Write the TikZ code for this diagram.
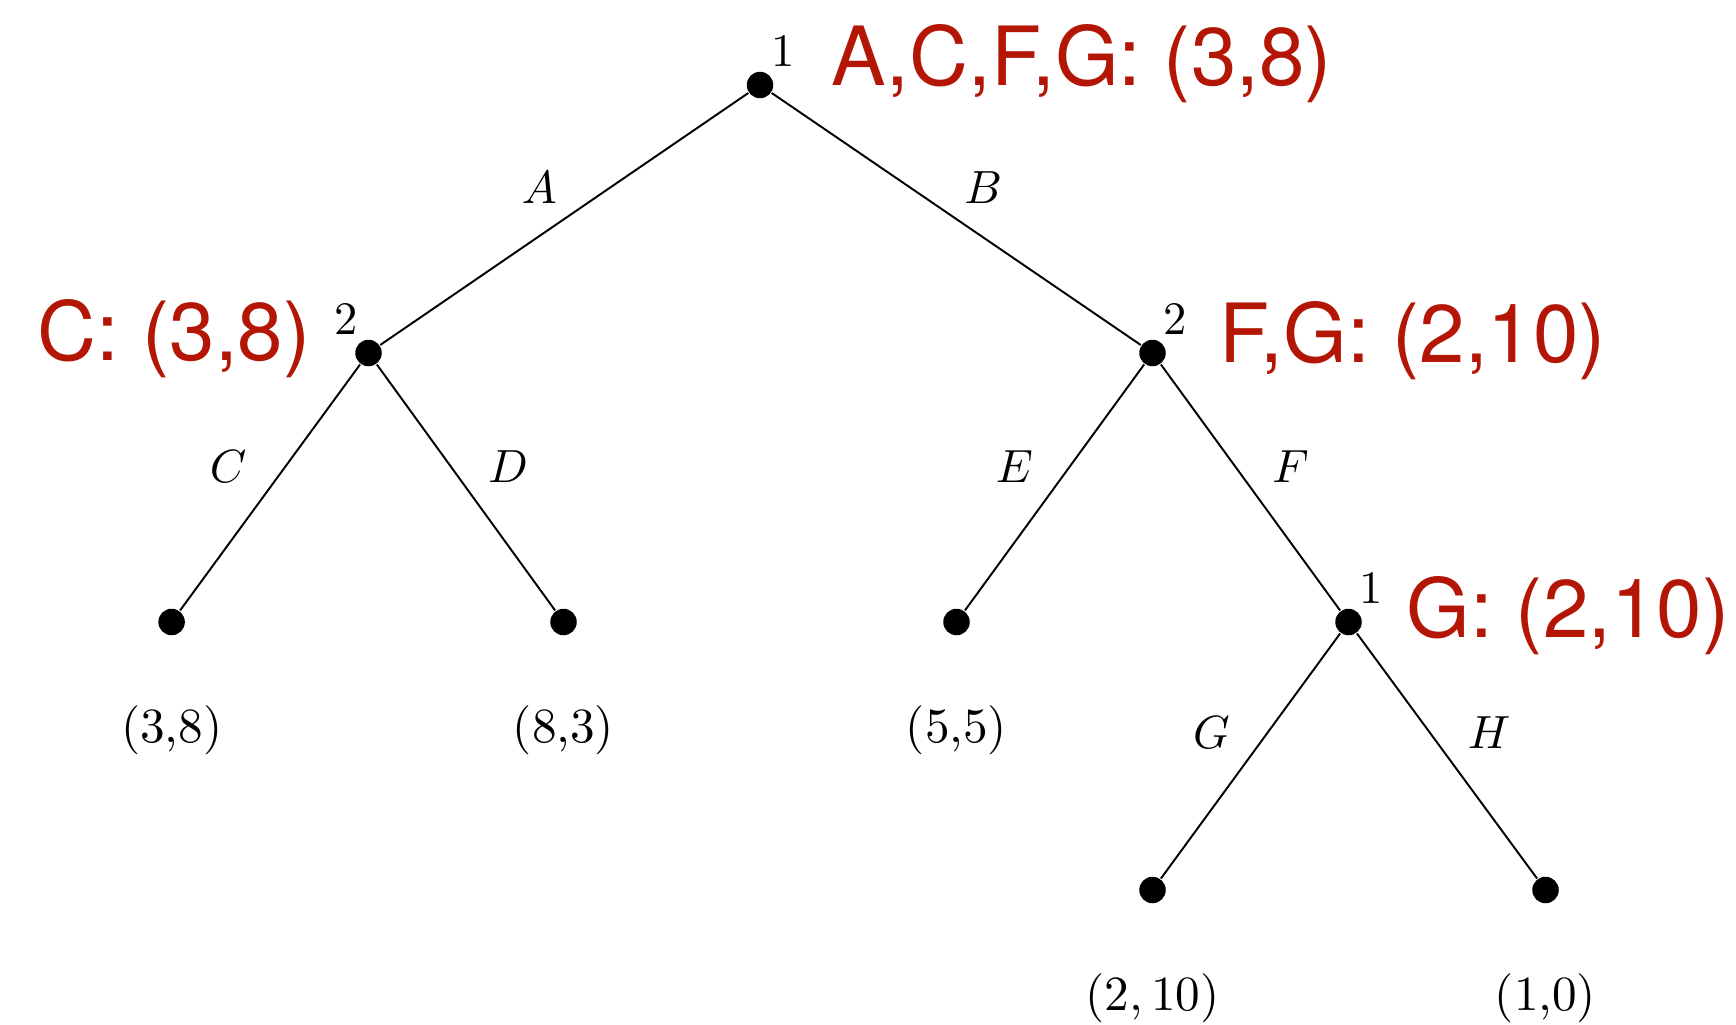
\documentclass[tikz,border=0pt]{standalone}
\usepackage{amsmath,amssymb}
\usepackage{graphicx}
\usepackage{fontspec}
\usepackage{tikz}
\usetikzlibrary{positioning,calc}
\usepackage{xcolor}
\newfontfamily\helv{TeX Gyre Heros}
\definecolor{eqred}{RGB}{180,22,6}
\newcommand{\lbl}[1]{\scalebox{2.65}{#1}}
\newcommand{\pay}[1]{\scalebox{2.8}{#1}}

\begin{document}
\begin{tikzpicture}[x=0.02cm, y=-0.02cm, line width=1.1pt,
    dot/.style={circle, fill=black, inner sep=0pt, minimum size=0.53cm},
    nlab/.style={inner sep=0pt, yshift=0.15cm},
    elab/.style={inner sep=0pt},
    spe/.style={font=\helv\fontsize{46.5}{56}\selectfont, text=eqred, inner sep=0pt}]
  \useasboundingbox (0,0) rectangle (1736,1024);

  % Decision nodes
  \node[dot, label={[nlab]above right:\lbl{1}}] (root) at (760,85) {};
  \node[dot, label={[nlab]above left:\lbl{2}}] (left) at (368.5,353) {};
  \node[dot, label={[nlab]above right:\lbl{2}}] (right) at (1152.5,353) {};
  \node[dot, label={[nlab]above right:\lbl{1}}] (inner) at (1348.5,622) {};

  % Terminal nodes
  \node[dot] (ll) at (171.6,622) {};
  \node[dot] (lr) at (563.5,622) {};
  \node[dot] (rl) at (956.5,622) {};
  \node[dot] (gl) at (1152.5,890) {};
  \node[dot] (hr) at (1545.5,890) {};

  % Branches
  \draw (root) -- node[elab, shift={(-25,-31)}] (ea) {\lbl{$A$}} (left);
  \draw (root) -- node[elab, shift={(27,-31)}] (eb) {\lbl{$B$}} (right);
  \draw (left) -- node[elab, shift={(-42,-21)}] (ec) {\lbl{$C$}} (ll);
  \draw (left) -- node[elab, shift={(42,-21)}] (ed) {\lbl{$D$}} (lr);
  \draw (right) -- node[elab, shift={(-40,-21)}] (ee) {\lbl{$E$}} (rl);
  \draw (right) -- node[elab, shift={(40,-21)}] (ef) {\lbl{$F$}} (inner);
  \draw (inner) -- node[elab, shift={(-39,-23)}] (eg) {\lbl{$G$}} (gl);
  \draw (inner) -- node[elab, shift={(42,-23)}] (eh) {\lbl{$H$}} (hr);

  % Payoffs
  \node (pll) at ([yshift=-2.17cm]ll) {\pay{(3,8)}};
  \node (plr) at ([yshift=-2.17cm]lr) {\pay{(8,3)}};
  \node (prl) at ([yshift=-2.17cm]rl) {\pay{(5,5)}};
  \node (pgl) at ([yshift=-2.17cm]gl) {\pay{$(2,10)$}};
  \node (phr) at ([yshift=-2.17cm]hr) {\pay{(1,0)}};

  % Backward induction results
  \node[spe, anchor=base west] (sroot) at (831,86) {A,C,F,G: (3,8)};
  \node[spe, anchor=base west] (sleft) at (37,360) {C: (3,8)};
  \node[spe, anchor=base west] (sright) at (1219,362) {F,G: (2,10)};
  \node[spe, anchor=base west] (sinner) at (1406,637) {G: (2,10)};
\end{tikzpicture}
\end{document}
